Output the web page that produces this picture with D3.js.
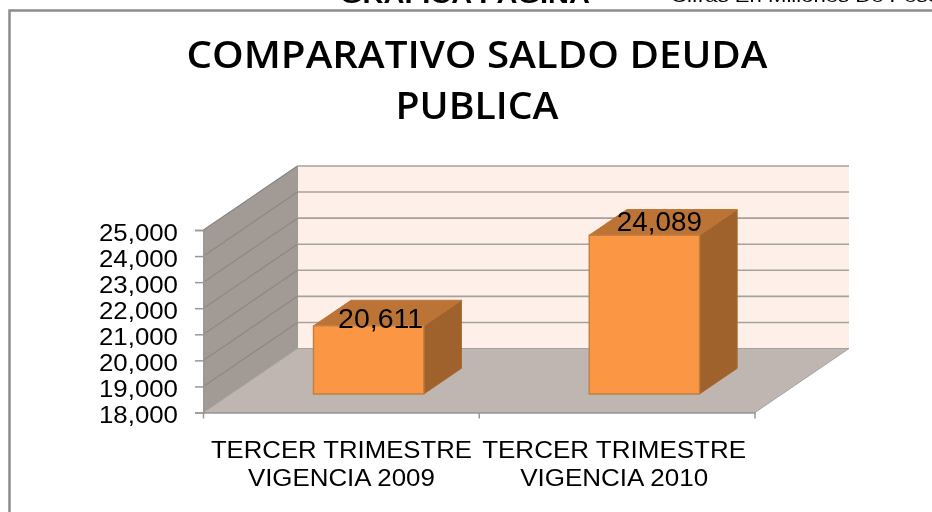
<!DOCTYPE html>
<html lang="en">
  <head>
    <meta charset="UTF-8" />
    <title>Comparativo saldo deuda publica</title>
    <script src="https://cdn.jsdelivr.net/npm/d3@7"></script>
    <style>
      html, body { margin: 0; background: #fff; overflow: hidden; }
      svg { display: block; filter: blur(0.35px); }
      text { fill: #000; }
      .lab { font-family: "Liberation Sans", Arial, sans-serif; }
      .title { font-family: "Open Sans", "Noto Sans", sans-serif; font-weight: 600; }
    </style>
  </head>
  <body>
    <svg id="chart" width="932" height="512"></svg>
    <script>
      const categories = ["TERCER TRIMESTRE|VIGENCIA 2009", "TERCER TRIMESTRE|VIGENCIA 2010"];
      const values = [20611, 24089];
      const yTicks = [18000, 19000, 20000, 21000, 22000, 23000, 24000, 25000];
      const titleLines = ["COMPARATIVO SALDO DEUDA", "PUBLICA"];

      const svg = d3.select("#chart");
      const fmt = d3.format(",");

      // the source picture is stretched sideways, so text gets forced widths
      const stretched = (sel, w) => sel.attr("textLength", w).attr("lengthAdjust", "spacingAndGlyphs");
      const titleWidths = [581, 163];
      const catWidths = [[261, 187], [264, 188]];
      const labelShift = [[12, 2], [15, -4]];

      const plotLeft = 203.5, plotRight = 755, plotBottom = 412.5, plotTop = 230;
      const x = d3.scaleBand().domain(categories).range([plotLeft, plotRight]).paddingInner(0).paddingOuter(0);
      const y = d3.scaleLinear().domain([18000, 25000]).range([plotBottom, plotTop]);
      // depth goes back and up, like the old excel 3d columns
      const dx = d3.scaleLinear().domain([0, 1]).range([0, 94]);
      const dy = d3.scaleLinear().domain([0, 1]).range([0, -64]);
      const pt = (px, py, t) => [px + dx(t), py + dy(t)];
      const poly = (pts) => pts.map((p) => p.join(",")).join(" ");

      // cut off stuff from the page above
      svg.append("text").attr("x", 340).attr("y", 3)
        .attr("class", "lab").attr("font-size", 23).attr("font-weight", 700)
        .text("GRAFICA PAGINA").call(stretched, 250);
      svg.append("text").attr("x", 671).attr("y", 2)
        .attr("class", "lab").attr("font-size", 16)
        .text("Cifras En Millones De Pesos").call(stretched, 280);

      // frame
      svg.append("path").attr("d", "M9.5,512V10.5H932").attr("fill", "none").attr("stroke", "#8c8c8c").attr("stroke-width", 2.5);

      // title
      svg.selectAll(".title").data(titleLines).join("text")
        .attr("class", "title").attr("x", 477).attr("y", (d, i) => 68 + i * 51)
        .attr("text-anchor", "middle").attr("font-size", 38).text((d) => d)
        .attr("textLength", (d, i) => titleWidths[i]).attr("lengthAdjust", "spacingAndGlyphs");

      // back wall
      svg.append("polygon").attr("fill", "#fef0e8")
        .attr("points", poly([pt(plotLeft, plotTop, 1), pt(plotRight, plotTop, 1), pt(plotRight, plotBottom, 1), pt(plotLeft, plotBottom, 1)]));
      // side wall
      svg.append("polygon").attr("fill", "#a29a95").attr("stroke", "#999")
        .attr("points", poly([pt(plotLeft, plotTop, 0), pt(plotLeft, plotTop, 1), pt(plotLeft, plotBottom, 1), pt(plotLeft, plotBottom, 0)]));
      // floor
      svg.append("polygon").attr("fill", "#bfb5b1").attr("stroke", "#a3a3a3")
        .attr("points", poly([pt(plotLeft, plotBottom, 0), pt(plotLeft, plotBottom, 1), pt(plotRight, plotBottom, 1), pt(plotRight, plotBottom, 0)]));

      // gridlines, skip the floor one
      yTicks.slice(1).forEach((t) => {
        const a = pt(plotLeft, y(t), 0), b = pt(plotLeft, y(t), 1), c = pt(plotRight, y(t), 1);
        svg.append("polyline").attr("fill", "none").attr("stroke", "#8b8886").attr("stroke-width", 1.2)
          .attr("points", poly([a, b]));
        svg.append("polyline").attr("fill", "none").attr("stroke", "#a5a19e").attr("stroke-width", 1.6)
          .attr("points", poly([b, c]));
      });

      // axes
      const axisY = d3.axisLeft(y).tickValues(yTicks).tickFormat(fmt).tickSize(8.5).tickPadding(17);
      const gy = svg.append("g").attr("transform", `translate(${plotLeft},0)`).call(axisY);
      const axisX = d3.axisBottom(x).tickValues([]).tickSizeOuter(0);
      const gx = svg.append("g").attr("transform", `translate(0,${plotBottom})`).call(axisX);
      gy.selectAll("line").attr("stroke", "#999").attr("stroke-width", 1.5);
      gy.select(".domain").attr("stroke", "#999").attr("stroke-width", 1.5);
      gx.select(".domain").attr("stroke", "#999").attr("stroke-width", 1.5);
      gy.attr("font-family", null).attr("font-size", null);
      gy.selectAll("text").attr("class", "lab").attr("font-size", 23.5).attr("dy", "0.43em").call(stretched, 79);

      [plotLeft, x(categories[1]), plotRight].forEach((v) => {
        svg.append("line").attr("x1", v).attr("x2", v).attr("y1", plotBottom).attr("y2", plotBottom + 6)
          .attr("stroke", "#999").attr("stroke-width", 1.5);
      });

      // category labels
      categories.forEach((c, k) => {
        const cx = x(c) + x.bandwidth() / 2 - k * 3;
        c.split("|").forEach((line, i) => {
          svg.append("text").attr("class", "lab").attr("x", cx).attr("y", 457.5 + i * 28)
            .attr("text-anchor", "middle").attr("font-size", 23.5)
            .text(line).call(stretched, catWidths[k][i]);
        });
      });

      // bars
      const barW = 0.4, d0 = 0.29, d1 = 0.69;
      values.forEach((v, i) => {
        const cat = categories[i];
        const x0 = x(cat) + x.bandwidth() * (0.5 - barW / 2);
        const x1 = x(cat) + x.bandwidth() * (0.5 + barW / 2);
        const b = y(18000), h = y(v);
        svg.append("polygon").attr("fill", "#9f622c").attr("stroke", "#a8662e")
          .attr("points", poly([pt(x1, h, d0), pt(x1, h, d1), pt(x1, b, d1), pt(x1, b, d0)]));
        svg.append("polygon").attr("fill", "#bc7436").attr("stroke", "#bc7436")
          .attr("points", poly([pt(x0, h, d0), pt(x0, h, d1), pt(x1, h, d1), pt(x1, h, d0)]));
        svg.append("polygon").attr("fill", "#fb9744").attr("stroke", "#c47f40").attr("stroke-width", 1.4)
          .attr("points", poly([pt(x0, h, d0), pt(x1, h, d0), pt(x1, b, d0), pt(x0, b, d0)]));
        const lp = pt((x0 + x1) / 2, h, d0);
        svg.append("text").attr("class", "lab").attr("x", lp[0] + labelShift[i][0]).attr("y", lp[1] + labelShift[i][1])
          .attr("text-anchor", "middle").attr("font-size", 27).text(fmt(v)).call(stretched, 85);
      });
    </script>
  </body>
</html>
